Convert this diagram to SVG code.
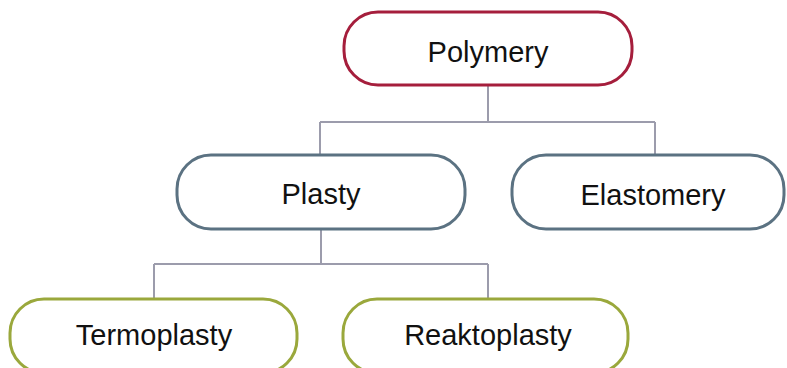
<svg xmlns="http://www.w3.org/2000/svg" width="787" height="368" viewBox="0 0 787 368">
<style>
.box{fill:#fff;stroke-width:3}
.red{stroke:#A51E3C}
.blue{stroke:#5B7282}
.green{stroke:#9AA83C}
.lbl{font-family:"Liberation Sans",Arial,sans-serif;font-size:29px;fill:#111;text-anchor:middle}
.con{fill:none;stroke:#9C9CAC;stroke-width:2}
</style>
<rect width="787" height="368" fill="#fff"/>
<g id="connectors">
<path class="con" d="M488 85V122M320 122H655M320 122V155M655 122V155"/>
<path class="con" d="M321 229V264M154 264H488M154 264V299M488 264V299"/>
</g>
<g id="polymery"><rect class="box red" x="344" y="12" width="288" height="73" rx="34"/><text class="lbl" x="488" y="62">Polymery</text></g>
<g id="plasty"><rect class="box blue" x="177" y="155" width="288" height="74" rx="34"/><text class="lbl" x="321" y="204">Plasty</text></g>
<g id="elastomery"><rect class="box blue" x="512" y="155" width="272" height="74" rx="34"/><text class="lbl" x="653" y="205">Elastomery</text></g>
<g id="termoplasty"><rect class="box green" x="10" y="299" width="287" height="74" rx="34"/><text class="lbl" x="154" y="345">Termoplasty</text></g>
<g id="reaktoplasty"><rect class="box green" x="343" y="299" width="285" height="74" rx="34"/><text class="lbl" x="488" y="345">Reaktoplasty</text></g>
</svg>
